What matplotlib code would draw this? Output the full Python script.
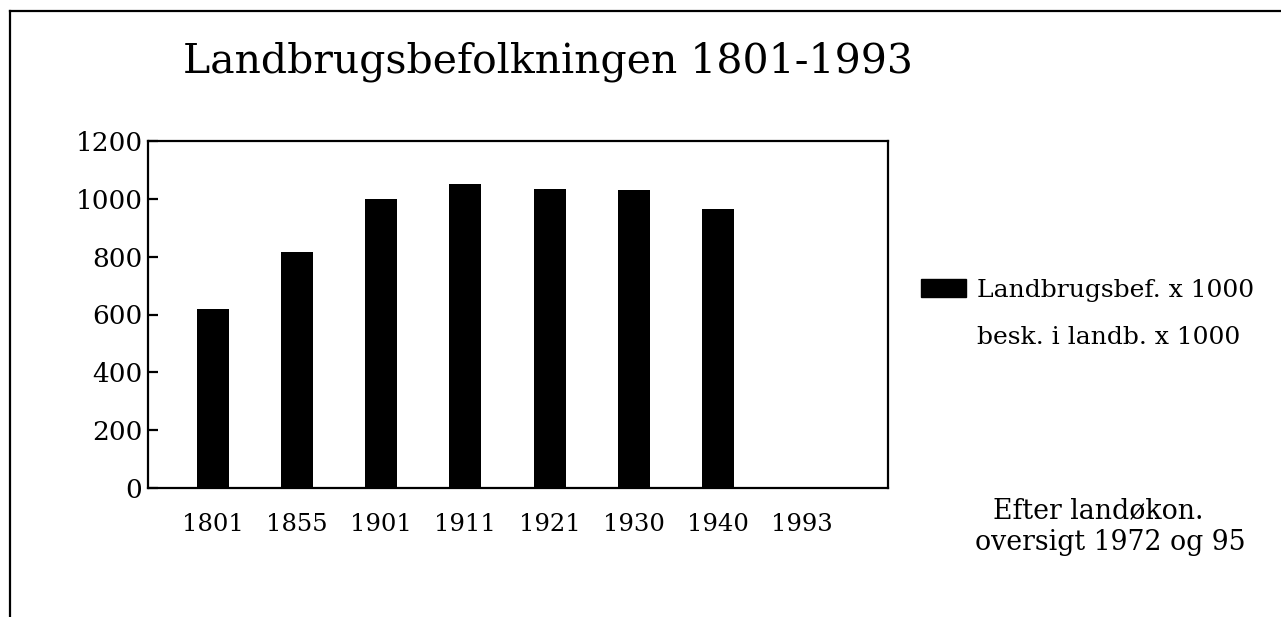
import numpy as np
import matplotlib
matplotlib.use("Agg")
import matplotlib.pyplot as plt
from matplotlib.patches import Patch
from matplotlib.lines import Line2D

years = ["1801", "1855", "1901", "1911", "1921", "1930", "1940", "1993"]
landbrugsbef = [620, 815, 1000, 1050, 1035, 1030, 965, 0]
yticks = [0, 200, 400, 600, 800, 1000, 1200]

plt.rcParams["font.family"] = ["DejaVu Serif"]

fig = plt.figure(figsize=(12.81, 6.17), dpi=100)
ax = fig.add_axes([148 / 1281, 1 - 488 / 617, 740 / 1281, 347 / 617])

x = np.arange(len(years))
ax.bar(x, landbrugsbef, width=0.38, color="black", label="Landbrugsbef. x 1000")

ax.set_xlim(-0.77, 8.02)
ax.set_ylim(0, 1200)
ax.set_yticks(yticks)
ax.set_yticklabels([str(v) for v in yticks], fontsize=19)
ax.set_xticks(x)
ax.set_xticklabels(years, fontsize=17.5)
ax.tick_params(axis="y", direction="in", length=7, width=1.6, pad=4)
ax.tick_params(axis="x", length=0, pad=18)
for s in ax.spines.values():
    s.set_linewidth(1.6)

fig.text(183 / 1281, 1 - 62 / 617, "Landbrugsbefolkningen 1801-1993",
         fontsize=29.5, va="center", ha="left")

handles = [Patch(facecolor="black", edgecolor="black"),
           Patch(facecolor="white", edgecolor="white")]
fig.legend(handles, ["Landbrugsbef. x 1000", "besk. i landb. x 1000"],
           loc="upper left", bbox_to_anchor=(921 / 1281, 1 - 279 / 617),
           frameon=False, fontsize=18, handlelength=1.8, handleheight=0.72,
           handletextpad=0.45, labelspacing=0.98, borderpad=0, borderaxespad=0)

fig.text(993 / 1281, 1 - 511 / 617, "Efter landøkon.", fontsize=19.3,
         va="center", ha="left")
fig.text(975 / 1281, 1 - 543 / 617, "oversigt 1972 og 95", fontsize=19.3,
         va="center", ha="left")

fig.add_artist(Line2D([10 / 1281, 1], [1 - 11 / 617, 1 - 11 / 617],
                      transform=fig.transFigure, color="black", lw=1.6))
fig.add_artist(Line2D([10 / 1281, 10 / 1281], [0, 1 - 11 / 617],
                      transform=fig.transFigure, color="black", lw=1.6))

fig.savefig("out.png", dpi=100)
